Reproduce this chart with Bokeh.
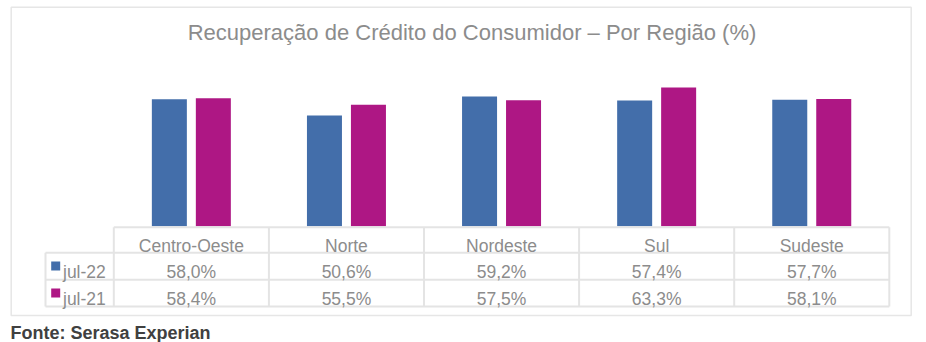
import numpy as np
from bokeh.plotting import figure
from bokeh.models import Range1d
from bokeh.core.properties import value
from bokeh.embed import file_html
from bokeh.resources import INLINE

# ---------------- data ----------------
categories = ["Centro-Oeste", "Norte", "Nordeste", "Sul", "Sudeste"]
jul22 = [58.0, 50.6, 59.2, 57.4, 57.7]
jul21 = [58.4, 55.5, 57.5, 63.3, 58.1]
series_labels = ["jul-22", "jul-21"]
title_text = "Recuperação de Crédito do Consumidor – Por Região (%)"
source_text = "Fonte: Serasa Experian"

# ---------------- layout constants ----------------
W, H = 926, 342
COL0_PX = 113.3      # left edge of first category column (px)
COL_W_PX = 155.1     # column width (px)
BASE_PX = 225.7      # bar baseline (px)
PX_PER_UNIT = 2.19   # px per percentage point
FONT = "Liberation Sans"
GRAY = "#8C8C8C"
LINE = "#E4E4E4"
BLUE = "#436EAA"
MAGENTA = "#AE1784"


def ux(px):
    return (px - COL0_PX) / COL_W_PX


p = figure(width=W, height=H, output_backend="svg", toolbar_location=None,
           x_range=Range1d(ux(0), ux(W)), y_range=Range1d(H, 0),
           min_border=0, min_border_left=0, min_border_right=0,
           min_border_top=0, min_border_bottom=0)
p.xaxis.visible = False
p.yaxis.visible = False
p.grid.visible = False
p.outline_line_color = None
p.background_fill_color = "white"
p.border_fill_color = "white"
p.extra_y_ranges = {"val": Range1d(-(H - BASE_PX) / PX_PER_UNIT, BASE_PX / PX_PER_UNIT)}

# outer border
p.quad(left=[ux(10.7)], right=[ux(910.7)], top=[6.7], bottom=[315.0],
       fill_color=None, line_color="#E6E6E6", line_width=1.5)

# ---------------- bars ----------------
n = len(categories)
centers = np.arange(n) + 0.5
off = 0.1418
bw = 0.2257
p.vbar(x=centers - off, top=jul22, bottom=0, width=bw, fill_color=BLUE,
       line_color=None, y_range_name="val")
p.vbar(x=centers + off, top=jul21, bottom=0, width=bw, fill_color=MAGENTA,
       line_color=None, y_range_name="val")

# ---------------- table ----------------
y_head_top, y_r1, y_r2, y_bot = 226.7, 252.2, 279.3, 306.0
leg_left = ux(45.0)
xs, ys = [], []
xs.append([0, n]); ys.append([y_head_top, y_head_top])
for yy in (y_r1, y_r2, y_bot):
    xs.append([leg_left, n]); ys.append([yy, yy])
for i in range(n + 1):
    xs.append([i, i]); ys.append([y_head_top, y_bot])
xs.append([leg_left, leg_left]); ys.append([y_r1, y_bot])
p.multi_line(xs=xs, ys=ys, line_color=LINE, line_width=2)

fs_tab = "17.5px"
p.text(x=centers, y=[245.7] * n, text=categories, text_align="center",
       text_baseline="alphabetic", text_font=value(FONT),
       text_font_size=fs_tab, text_color=GRAY)


def fmt(v):
    return f"{v:.1f}%".replace(".", ",")


row_base = [271.7, 298.9]
for vals, yb in zip((jul22, jul21), row_base):
    p.text(x=centers, y=[yb] * n, text=[fmt(v) for v in vals],
           text_align="center", text_baseline="alphabetic",
           text_font=value(FONT), text_font_size=fs_tab, text_color=GRAY)

# legend keys
p.scatter(x=[ux(55.2)] * 2, y=[b - 6.3 for b in row_base], marker="square",
          size=9, color=[BLUE, MAGENTA], line_color=None)
p.text(x=[ux(62.5)] * 2, y=row_base, text=series_labels, text_align="left",
       text_baseline="alphabetic", text_font=value(FONT),
       text_font_size=fs_tab, text_color=GRAY)

# ---------------- title & source ----------------
p.text(x=[ux(471.5)], y=[31.7], text=[title_text], text_align="center",
       text_baseline="alphabetic", text_font=value(FONT),
       text_font_size="22px", text_color=GRAY)
p.text(x=[ux(10.0)], y=[332.0], text=[source_text], text_align="left",
       text_baseline="alphabetic", text_font=value(FONT),
       text_font_size="18px", text_font_style="bold", text_color="#404040")

open("out.html", "w").write(file_html(p, INLINE))
